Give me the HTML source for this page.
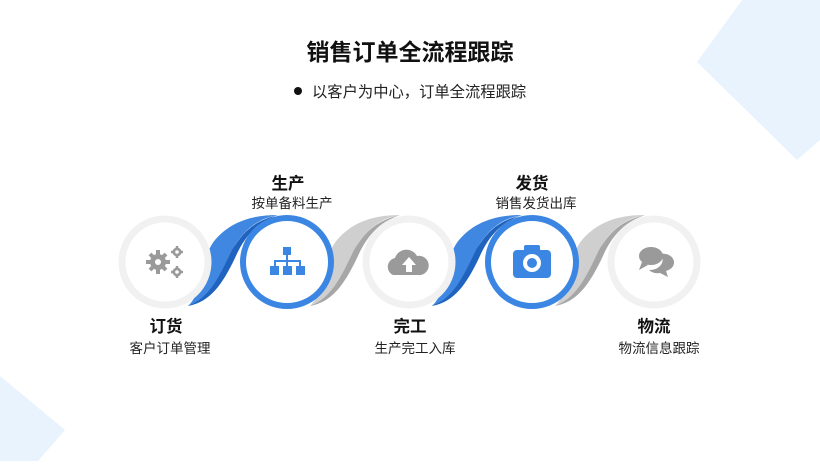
<!DOCTYPE html>
<html><head><meta charset="utf-8"><style>
body{margin:0;width:820px;height:461px;overflow:hidden;background:#fff;font-family:"Liberation Sans","Noto Sans CJK SC",sans-serif;}
</style></head><body>
<svg width="820" height="461" xmlns="http://www.w3.org/2000/svg" font-family="Liberation Sans, Noto Sans CJK SC, sans-serif">
<polygon points="742,0 820,0 820,140 797,160 697,62" fill="#e8f3fe"/>
<polygon points="0,376 65,430 38,461 0,461" fill="#e8f3fe"/>
<text x="410" y="60" text-anchor="middle" font-size="23" font-weight="bold" fill="#111">销售订单全流程跟踪</text>
<circle cx="298" cy="91" r="4" fill="#111"/>
<text x="312" y="97" font-size="15.3" fill="#222">以客户为中心，订单全流程跟踪</text>
<g>
<path d="M188,306 C215,300 222,270 235,245 C248,225 262,218 278,215 C255,215 232,220 215,240 C200,258 205,290 188,306Z" fill="#3f87e0"/>
<path d="M188,306 C210,298 220,275 232,250 C245,228 258,220 278,215 C258,222 245,235 235,258 C222,285 210,302 188,306Z" fill="#1f63bf"/>
<path d="M310,306 C337,300 344,270 357,245 C370,225 384,218 400,215 C377,215 354,220 337,240 C322,258 327,290 310,306Z" fill="#cfcfcf"/>
<path d="M310,306 C332,298 342,275 354,250 C367,228 380,220 400,215 C380,222 367,235 357,258 C344,285 332,302 310,306Z" fill="#a6a6a6"/>
<path d="M432,306 C459,300 466,270 479,245 C492,225 506,218 522,215 C499,215 476,220 459,240 C444,258 449,290 432,306Z" fill="#3f87e0"/>
<path d="M432,306 C454,298 464,275 476,250 C489,228 502,220 522,215 C502,222 489,235 479,258 C466,285 454,302 432,306Z" fill="#1f63bf"/>
<path d="M555,306 C582,300 589,270 602,245 C615,225 629,218 645,215 C622,215 599,220 582,240 C567,258 572,290 555,306Z" fill="#cfcfcf"/>
<path d="M555,306 C577,298 587,275 599,250 C612,228 625,220 645,215 C625,222 612,235 602,258 C589,285 577,302 555,306Z" fill="#a6a6a6"/>
</g>
<g fill="#fff">
<circle cx="165" cy="262" r="43" stroke="#f1f1f1" stroke-width="7"/>
<circle cx="287" cy="262" r="44" stroke="#3b86e3" stroke-width="6"/>
<circle cx="409" cy="262" r="43" stroke="#f1f1f1" stroke-width="7"/>
<circle cx="532" cy="262" r="44" stroke="#3b86e3" stroke-width="6"/>
<circle cx="654" cy="262" r="43" stroke="#f1f1f1" stroke-width="7"/>
</g>
<g fill="#9a9a9a">
<g stroke="#9a9a9a" stroke-width="4"><line x1="158" y1="250" x2="158" y2="274"/><line x1="146" y1="262" x2="170" y2="262"/><line x1="150" y1="254" x2="166" y2="270"/><line x1="150" y1="270" x2="166" y2="254"/></g>
<circle cx="158" cy="262" r="8"/>
<circle cx="158" cy="262" r="3" fill="#fff"/>
<g stroke="#9a9a9a" stroke-width="2.5"><line x1="177" y1="246" x2="177" y2="258"/><line x1="171" y1="252" x2="183" y2="252"/><line x1="177" y1="266" x2="177" y2="278"/><line x1="171" y1="272" x2="183" y2="272"/></g>
<circle cx="177" cy="252" r="4.5"/><circle cx="177" cy="272" r="4.5"/>
<circle cx="177" cy="252" r="1.8" fill="#fff"/><circle cx="177" cy="272" r="1.8" fill="#fff"/>
<path d="M393,275 a9,9 0 0 1 2,-17 a12,12 0 0 1 22,-2 a9,9 0 0 1 4,19Z"/>
<path d="M409,257 l-7,8 h4 v7 h6 v-7 h4Z" fill="#fff"/>
<ellipse cx="651" cy="256" rx="12" ry="9"/>
<path d="M642,262 l-3,8 l9,-5Z"/>
<path d="M660,254 a10,8 0 0 1 6,17 l2,6 l-8,-4 a10,7 0 0 1 -11,-3 a13,10 0 0 0 11,-16Z"/>
</g>
<g fill="#3b86e3">
<rect x="283" y="247" width="8" height="8"/>
<rect x="286" y="255" width="2" height="6"/>
<rect x="274" y="260" width="27" height="2"/>
<rect x="274" y="260" width="2" height="6"/><rect x="286" y="260" width="2" height="6"/><rect x="299" y="260" width="2" height="6"/>
<rect x="270" y="266" width="9" height="9"/><rect x="283" y="266" width="9" height="9"/><rect x="296" y="266" width="9" height="9"/>
<rect x="513" y="250" width="38" height="28" rx="4"/>
<rect x="524" y="245" width="16" height="8" rx="2"/>
<circle cx="532" cy="263" r="9" fill="#fff"/><circle cx="532" cy="263" r="5"/>
</g>
<g text-anchor="middle">
<text x="288" y="189" font-size="16.5" font-weight="bold" fill="#111">生产</text>
<text x="292" y="208" font-size="13.5" fill="#222">按单备料生产</text>
<text x="532" y="189" font-size="16.5" font-weight="bold" fill="#111">发货</text>
<text x="536" y="208" font-size="13.5" fill="#222">销售发货出库</text>
<text x="166" y="332" font-size="16.5" font-weight="bold" fill="#111">订货</text>
<text x="170" y="353" font-size="13.5" fill="#222">客户订单管理</text>
<text x="410" y="332" font-size="16.5" font-weight="bold" fill="#111">完工</text>
<text x="415" y="353" font-size="13.5" fill="#222">生产完工入库</text>
<text x="654" y="332" font-size="16.5" font-weight="bold" fill="#111">物流</text>
<text x="659" y="353" font-size="13.5" fill="#222">物流信息跟踪</text>
</g>
</svg>
</body></html>
